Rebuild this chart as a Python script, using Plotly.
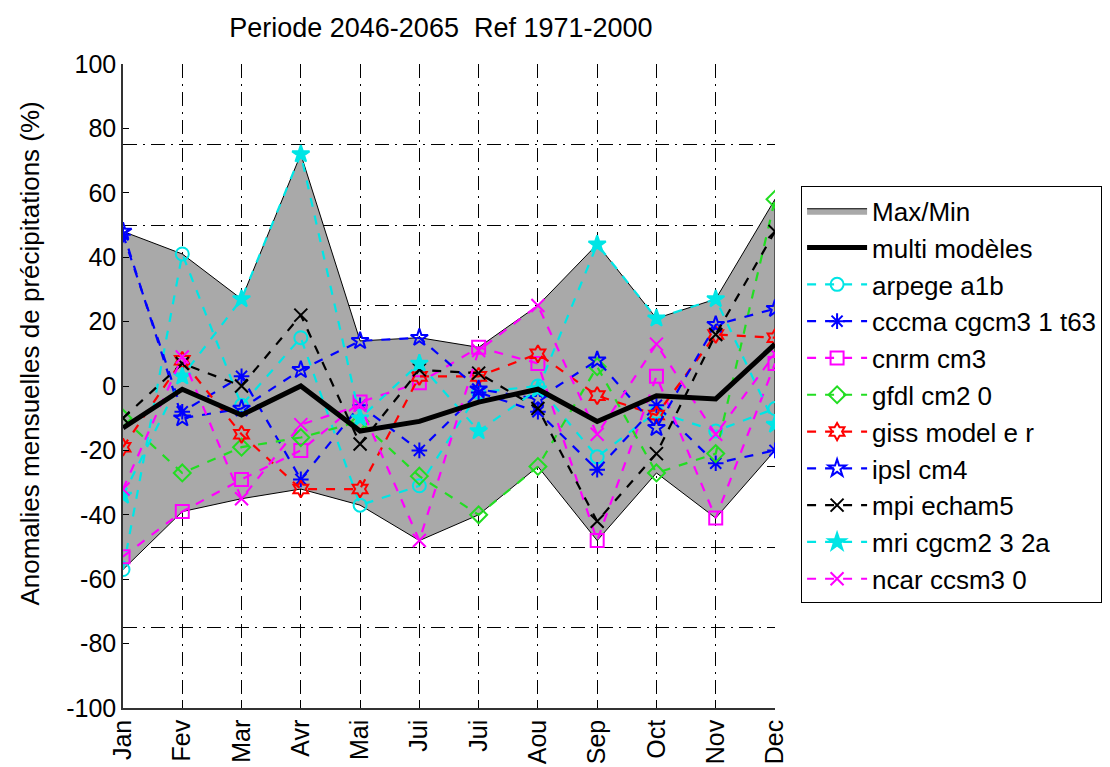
import plotly.graph_objects as go

months = ["Jan", "Fev", "Mar", "Avr", "Mai", "Jui", "Jui", "Aou", "Sep", "Oct", "Nov", "Dec"]
month_idx = list(range(12))

arpege = [-57, 41, -6, 15, -37, -31, -2, 0, -22, -8, -14, -7]
cccma = [47, -8, 3, -29, -6, -20, -2, -8, -26, -6, -24, -20]
cnrm = [-53, -39, -29, -20, -5, 1, 12, 7, -48, 3, -41, 7]
gfdl = [-10, -27, -19, -16, -11, -28, -40, -25, 6, -27, -21, 58]
giss = [-19, 8, -15, -32, -32, 3, 3, 10, -3, -9, 16, 15]
ipsl = [48, -10, -7, 5, 14, 15, -1, -4, 8, -13, 19, 24]
mpi = [-10, 7, 0, 22, -18, 5, 4, -7, -42, -21, 16, 48]
mri = [-34, 3, 27, 72, -10, 7, -14, -1, 44, 21, 27, -12]
ncar = [-32, 9, -35, -12, -6, -48, 11, 25, -15, 13, -15, 10]
multi = [-13, -1, -9, 0, -14, -11, -5, -1, -11, -3, -4, 13]

models = [
    ("arpege a1b", arpege, "#00e5e5", "circle-open"),
    ("cccma cgcm3 1 t63", cccma, "#0000ff", "asterisk-open"),
    ("cnrm cm3", cnrm, "#ff00ff", "square-open"),
    ("gfdl cm2 0", gfdl, "#22dd22", "diamond-open"),
    ("giss model e r", giss, "#ff0000", "hexagram-open"),
    ("ipsl cm4", ipsl, "#0000ff", "star-open"),
    ("mpi echam5", mpi, "#000000", "x-thin-open"),
    ("mri cgcm2 3 2a", mri, "#00e5e5", "star"),
    ("ncar ccsm3 0", ncar, "#ff00ff", "x-thin-open"),
]

y_ticks = [100, 80, 60, 40, 20, 0, -20, -40, -60, -80, -100]
y_ticktext = [str(v) for v in y_ticks]
grid_levels = [-75, -50, -25, 25, 50, 75]

all_series = [m[1] for m in models]
env_max = [max(s[i] for s in all_series) for i in month_idx]
env_min = [min(s[i] for s in all_series) for i in month_idx]

FONT = "Liberation Sans, Arial, sans-serif"
GRID_DASH = "14px,6px,2px,6px"

fig = go.Figure()

fig.add_trace(go.Scatter(
    x=month_idx + month_idx[::-1],
    y=env_max + env_min[::-1],
    fill="toself",
    fillcolor="#a9a9a9",
    line=dict(color="black", width=1),
    mode="lines",
    name="Max/Min",
    legendrank=1,
))

for k, (name, vals, color, sym) in enumerate(models):
    fig.add_trace(go.Scatter(
        x=month_idx, y=vals, mode="lines+markers", name=name,
        line=dict(color=color, width=2.2, dash="dash"),
        marker=dict(symbol=sym, size=13, color=color, line=dict(color=color, width=2)),
        legendrank=10 + k,
    ))

fig.add_trace(go.Scatter(
    x=month_idx, y=multi, mode="lines", name="multi modèles",
    line=dict(color="black", width=5),
    legendrank=2,
))

fig.update_layout(
    width=1110, height=767, autosize=False,
    paper_bgcolor="white", plot_bgcolor="white",
    margin=dict(l=115, r=343, t=56, b=67),
    font=dict(family=FONT, size=24, color="black"),
    title=dict(text="Periode 2046-2065\u00a0 Ref 1971-2000", x=0.39, xanchor="center",
               y=0.974, yanchor="middle", font=dict(size=27)),
    showlegend=True,
    legend=dict(x=1.04, y=0.81, xanchor="left", yanchor="top",
                bordercolor="black", borderwidth=1, bgcolor="white",
                font=dict(size=26), itemwidth=60, tracegroupgap=0),
    annotations=[dict(
        text="Anomalies mensuelles de précipitations (%)",
        xref="paper", yref="paper", x=-0.143, y=0.55,
        xanchor="center", yanchor="middle", textangle=-90,
        showarrow=False, font=dict(size=26),
    )],
)

fig.update_xaxes(
    range=[0, 11], tickmode="array", tickvals=month_idx, ticktext=months,
    tickangle=-90, showgrid=True, gridcolor="black", gridwidth=1,
    griddash=GRID_DASH, automargin=False,
    showline=True, linecolor="#333333", linewidth=1.5,
    ticks="inside", ticklen=6, tickcolor="black", zeroline=False,
    tickfont=dict(size=25),
)
fig.update_yaxes(
    range=[-100, 100], tickmode="array", tickvals=y_ticks, ticktext=y_ticktext,
    showgrid=False, automargin=False,
    minor=dict(tickmode="array", tickvals=grid_levels, showgrid=True, gridcolor="black",
               gridwidth=1, griddash=GRID_DASH, ticks=""),
    zeroline=True, zerolinecolor="black", zerolinewidth=1,
    showline=True, linecolor="#333333", linewidth=1.5,
    ticks="inside", ticklen=6, tickcolor="black",
    tickfont=dict(size=25),
)

fig.write_html("out.html")
